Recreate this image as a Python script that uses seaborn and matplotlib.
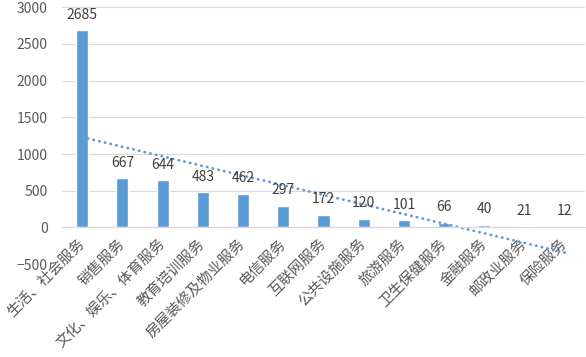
import seaborn as sns
import matplotlib.pyplot as plt
import numpy as np

categories = ["生活、社会服务", "销售服务", "文化、娱乐、体育服务", "教育培训服务",
              "房屋装修及物业服务", "电信服务", "互联网服务", "公共设施服务",
              "旅游服务", "卫生保健服务", "金融服务", "邮政业服务", "保险服务"]
values = [2685, 667, 644, 483, 462, 297, 172, 120, 101, 66, 40, 21, 12]
yticks = [-500, 0, 500, 1000, 1500, 2000, 2500, 3000]

sns.set_style("white")
plt.rcParams['font.family'] = ['Noto Sans CJK SC', 'DejaVu Sans']

c = '#5B9BD5'
fig = plt.figure(figsize=(5.86, 3.57), dpi=100)
ax = fig.add_axes([0.106, 0.26, 0.892, 0.72])

sns.barplot(x=categories, y=values, color=c, saturation=1, width=0.3, ax=ax)
sns.regplot(x=np.arange(len(values)), y=values, scatter=False, ci=None, ax=ax,
            line_kws=dict(color=c, linewidth=2, linestyle=(0, (0.1, 2.0)),
                          dash_capstyle='round'))

ax.bar_label(ax.containers[0], padding=6, fontsize=10, color='#404040')

ax.set_ylim(-500, 3000)
ax.set_xlim(-0.5, len(values) - 0.5)
ax.set_yticks(yticks)
ax.yaxis.grid(True, color='#D9D9D9', linewidth=0.8)
ax.set_axisbelow(True)
for s in ['top', 'right', 'left']:
    ax.spines[s].set_visible(False)
ax.spines['bottom'].set_position(('data', 0))
ax.spines['bottom'].set_color('#D9D9D9')
ax.tick_params(axis='both', length=0, colors='#595959')
ax.tick_params(axis='y', labelsize=10, pad=10.5)
ax.tick_params(axis='x', labelsize=10.6, pad=10)
plt.setp(ax.get_xticklabels(), rotation=45, ha='right', va='center',
         rotation_mode='anchor')
ax.set_xlabel("")
ax.set_ylabel("")

plt.savefig("out.png", dpi=100)
